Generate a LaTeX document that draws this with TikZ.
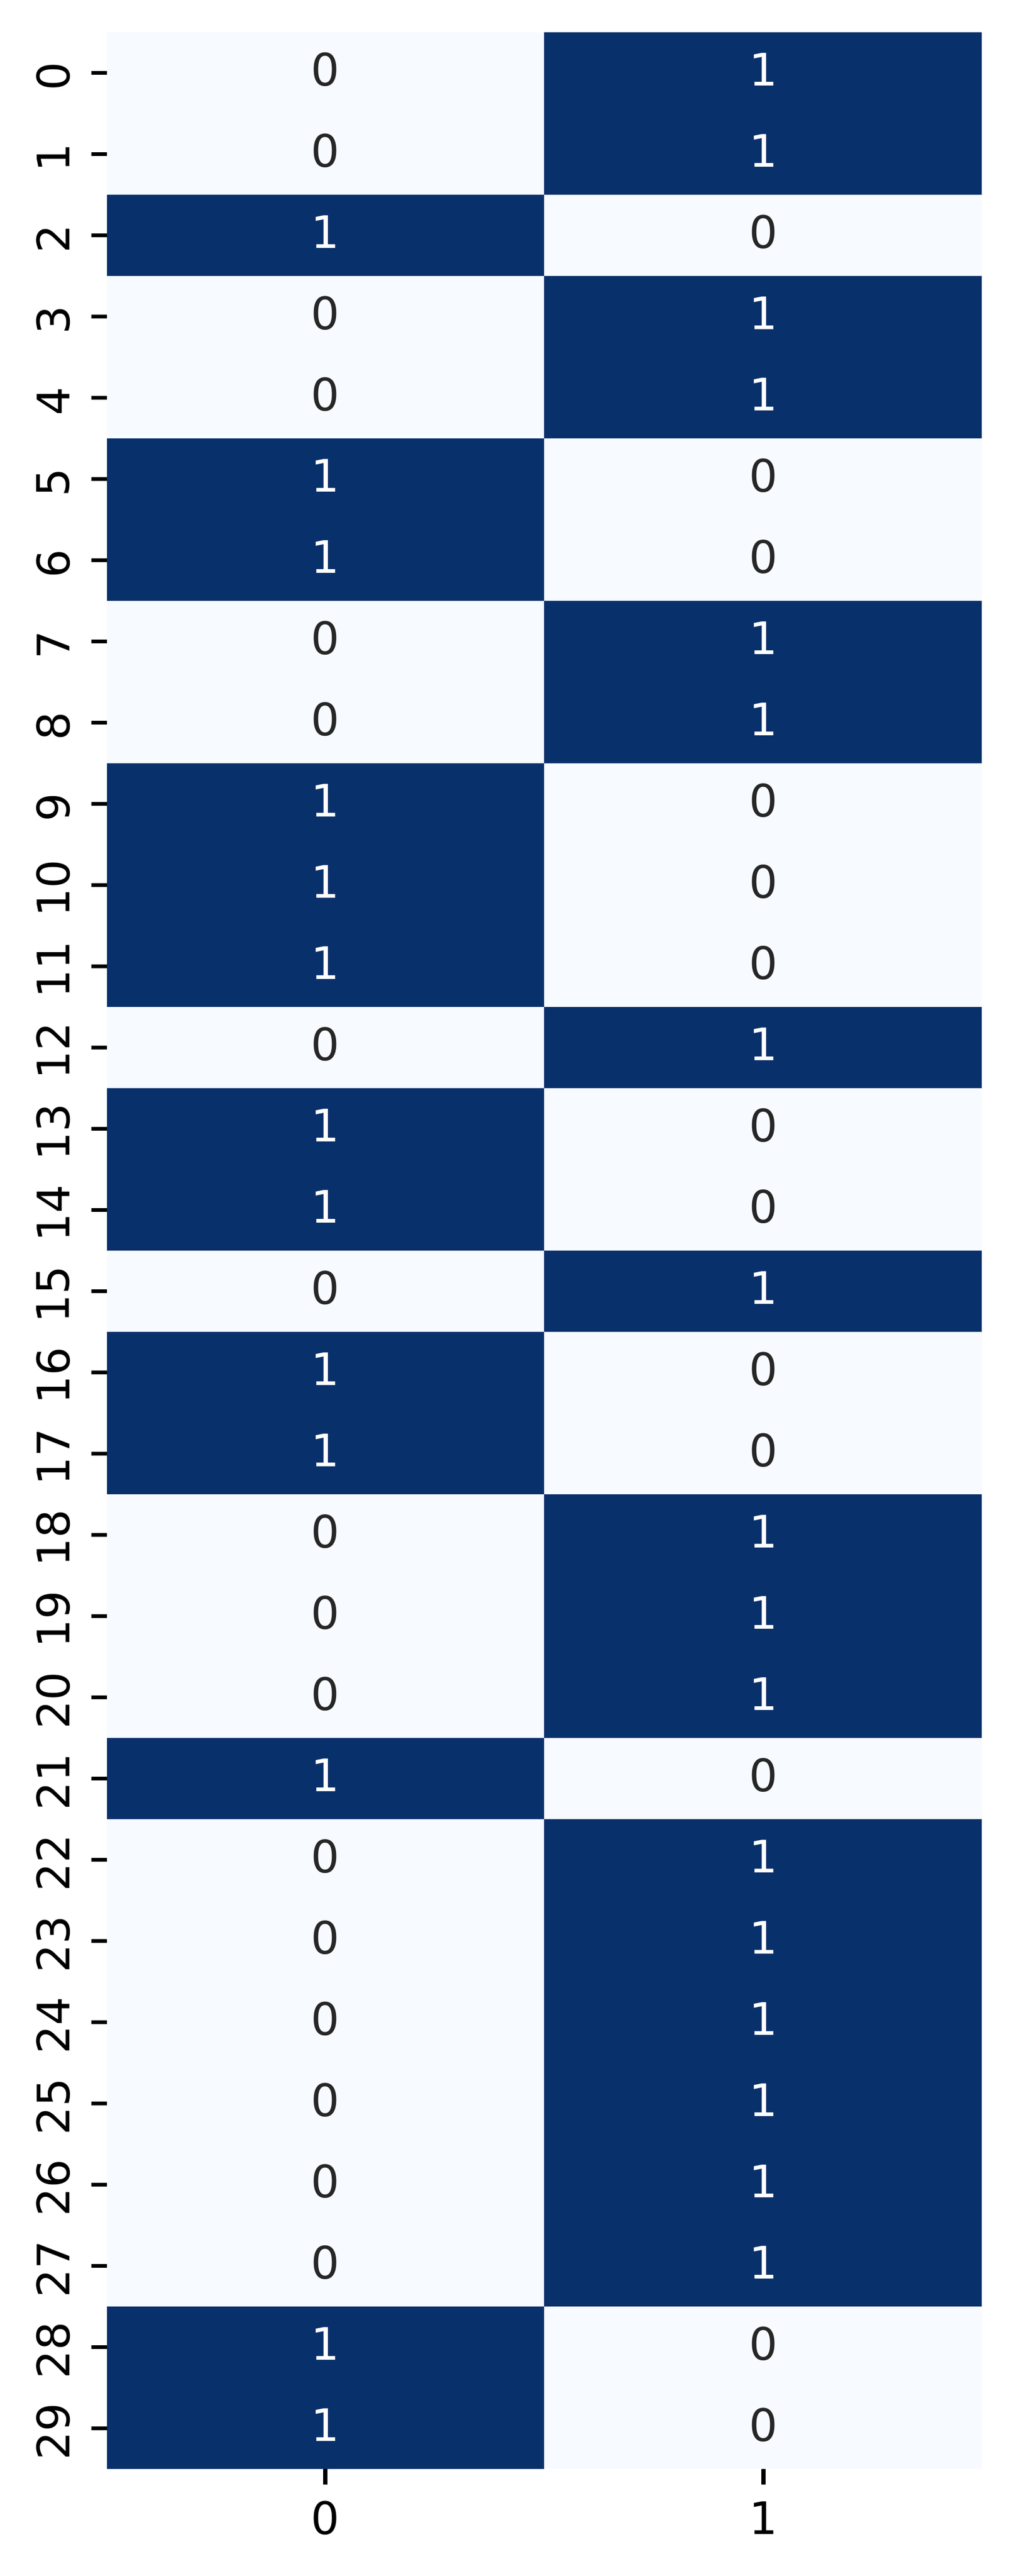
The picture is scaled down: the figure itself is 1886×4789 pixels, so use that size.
\documentclass[tikz,border=0pt]{standalone}
\usepackage{fontspec}
\setmainfont{DejaVu Sans}
\definecolor{dark}{HTML}{08306B}
\definecolor{light}{HTML}{F7FBFF}
\definecolor{annot}{HTML}{262626}
\begin{document}
\begin{tikzpicture}[x=1pt,y=-1pt,
  every node/.style={inner sep=0pt, font=\fontsize{83.3}{100}\selectfont},
  tickmark/.style={line width=7.5pt, black},
  darkcell/.style={fill=dark},
  lightcell/.style={fill=light}]
\useasboundingbox (0,0) rectangle (1886,4789);
\fill[lightcell] (198.5,60) rectangle (1826,4590);
\foreach \v [count=\i from 0] in {0,0,1,0,0,1,1,0,0,1,1,1,0,1,1,0,1,1,0,0,0,1,0,0,0,0,0,0,1,1}{
  \pgfmathsetmacro\ya{60+\i*151}
  \pgfmathsetmacro\yc{\ya+75.5}
  \ifnum\v=1
    \fill[darkcell] (198.5,\ya-0.3) rectangle (1012.25,\ya+151.3);
    \node[text=white] (a\i) at (605,\yc-6) {1};
    \node[text=annot] (b\i) at (1420,\yc-6) {0};
  \else
    \fill[darkcell] (1012.25,\ya-0.3) rectangle (1826,\ya+151.3);
    \node[text=annot] (a\i) at (605,\yc-6) {0};
    \node[text=white] (b\i) at (1420,\yc-6) {1};
  \fi
  \draw[tickmark] (170,\yc) -- (198.5,\yc);
  \node[rotate=90] (y\i) at (99,\yc+6) {\i};
}
\draw[tickmark] (605,4590) -- (605,4619);
\draw[tickmark] (1420,4590) -- (1420,4619);
\node (x0) at (605,4681) {0};
\node (x1) at (1420,4681) {1};
\end{tikzpicture}
\end{document}
